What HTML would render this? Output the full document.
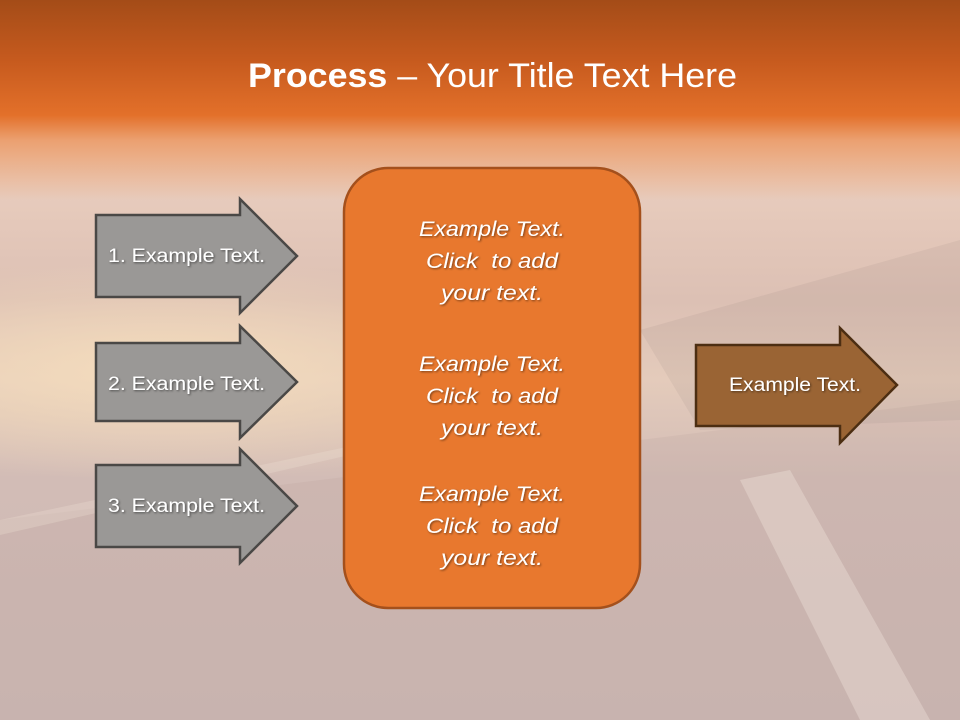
<!DOCTYPE html>
<html><head><meta charset="utf-8"><style>
body{margin:0;width:960px;height:720px;overflow:hidden;font-family:"Liberation Sans","DejaVu Sans",sans-serif}
.bg{position:absolute;left:0;top:0;width:960px;height:720px;
background:
linear-gradient(180deg,#a44c18 0px,#c65a1e 60px,#e3702a 115px,#eba070 140px,rgba(240,200,180,0) 200px),
radial-gradient(ellipse 420px 110px at 160px 370px,#f4dcbc 0%,rgba(240,210,180,0) 100%),
linear-gradient(180deg,#ecd0c0 150px,#dcc0b4 300px,#e4cbbb 380px,#d2bcb6 480px,#ccb8b4 720px);}
.road{position:absolute;left:0;top:0}
text{white-space:pre}
</style></head><body>
<div class="bg"></div>
<svg class="road" width="960" height="720">
<polygon points="0,520 960,400 960,720 0,720" fill="#b8a09c" opacity="0.2"/>
<polygon points="0,520 380,440 380,448 0,535" fill="#f0e0d4" opacity="0.3"/>
<polygon points="740,480 790,470 930,720 860,720" fill="#f4e8e0" opacity="0.35"/>
<polygon points="640,330 960,240 960,420 700,430" fill="#6a5a5a" opacity="0.08"/>
</svg>
<svg class="road" width="960" height="720" font-family="Liberation Sans, sans-serif">
<defs><filter id="s"><feDropShadow dx="1" dy="1" stdDeviation="1" flood-color="#000" flood-opacity="0.5"/></filter></defs>
<text x="248" y="87" fill="#fff" font-size="34" textLength="489" lengthAdjust="spacingAndGlyphs"><tspan font-weight="bold">Process</tspan> – Your Title Text Here</text>
<g fill="#9a9896" stroke="#4a4846" stroke-width="2.5">
<polygon points="96,215 240,215 240,199 297,256 240,313 240,297 96,297"/>
<polygon points="96,343 240,343 240,326 297,382 240,438 240,421 96,421"/>
<polygon points="96,465 240,465 240,449 297,506 240,563 240,547 96,547"/>
</g>
<polygon points="696,345 840,345 840,328 897,385 840,443 840,426 696,426" fill="#9a6434" stroke="#4c2e12" stroke-width="2.5"/>
<rect x="344" y="168" width="296" height="440" rx="44" fill="#e8782e" stroke="#a4501c" stroke-width="2.5"/>
<g fill="#fff" font-size="19" filter="url(#s)">
<text x="108" y="262" textLength="157" lengthAdjust="spacingAndGlyphs">1. Example Text.</text>
<text x="108" y="390" textLength="157" lengthAdjust="spacingAndGlyphs">2. Example Text.</text>
<text x="108" y="512" textLength="157" lengthAdjust="spacingAndGlyphs">3. Example Text.</text>
<text x="729" y="391" textLength="132" lengthAdjust="spacingAndGlyphs">Example Text.</text>
</g>
<g fill="#fff" font-size="21" font-style="italic" text-anchor="middle" filter="url(#s)">
<text x="492" y="236" textLength="146" lengthAdjust="spacingAndGlyphs">Example Text.</text><text x="492" y="268" textLength="132" lengthAdjust="spacingAndGlyphs">Click  to add</text><text x="492" y="300" textLength="102" lengthAdjust="spacingAndGlyphs">your text.</text>
<text x="492" y="371" textLength="146" lengthAdjust="spacingAndGlyphs">Example Text.</text><text x="492" y="403" textLength="132" lengthAdjust="spacingAndGlyphs">Click  to add</text><text x="492" y="435" textLength="102" lengthAdjust="spacingAndGlyphs">your text.</text>
<text x="492" y="501" textLength="146" lengthAdjust="spacingAndGlyphs">Example Text.</text><text x="492" y="533" textLength="132" lengthAdjust="spacingAndGlyphs">Click  to add</text><text x="492" y="565" textLength="102" lengthAdjust="spacingAndGlyphs">your text.</text>
</g>
</svg>
</body></html>
